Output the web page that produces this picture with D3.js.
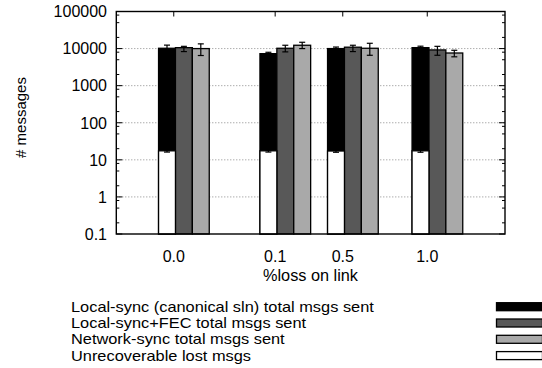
<!DOCTYPE html>
<html lang="en">
<head>
<meta charset="UTF-8">
<script src="https://cdn.jsdelivr.net/npm/d3@7"></script>
<title>messages vs loss</title>
<style>
  body { margin: 0; background: #fff; }
  text { font-family: "Liberation Sans", Arial, sans-serif; fill: #000; }
</style>
</head>
<body>
<script>
    // data
    const lossLabels = ["0.0", "0.1", "0.5", "1.0"];
    const seriesNames = [
        "Local-sync (canonical sln) total msgs sent",
        "Local-sync+FEC total msgs sent",
        "Network-sync total msgs sent",
        "Unrecoverable lost msgs"
    ];
    const localSync     = [10200, 7300, 10000, 10600];
    const localSyncLo   = [8400, 6700, 9000, 9600];
    const localSyncHi   = [12400, 7950, 11000, 11600];
    const localFec      = [10600, 10200, 10900, 9200];
    const localFecLo    = [8300, 8150, 8300, 6600];
    const localFecHi    = [11500, 12300, 12300, 11500];
    const netSync       = [10000, 12300, 10200, 7600];
    const netSyncLo     = [6500, 10000, 6600, 6000];
    const netSyncHi     = [13400, 14800, 13900, 9000];
    const lost          = [17.5, 17.5, 17.3, 17.5];
    const lostLo        = [16.2, 16.2, 16.0, 16.0];
    const lostHi        = [18.6, 18.6, 18.5, 18.8];
    const yTicks = [0.1, 1, 10, 100, 1000, 10000, 100000];

    // layout (in bar-width units along the x axis)
    const groupStart = [2.5, 8.5, 12.5, 17.5];
    const fills = ["#000000", "#585858", "#a9a9a9", "#ffffff"];

    const W = 542, H = 368;
    const L = 116.3, R = 505, T = 11.5, B = 234;

    const svg = d3.select("body").append("svg").attr("width", W).attr("height", H);

    const x = d3.scaleLinear().domain([0, 23]).range([L, R]);
    const y = d3.scaleLog().domain([0.1, 100000]).range([B, T]);

    // grid
    svg.append("g").selectAll("line")
        .data(yTicks.filter(v => v > 0.1 && v < 100000))
        .join("line")
        .attr("x1", L).attr("x2", R)
        .attr("y1", d => y(d)).attr("y2", d => y(d))
        .attr("stroke", "#8a8a8a").attr("stroke-width", 1)
        .attr("stroke-dasharray", "1,2");

    // minor ticks (2, 5, 8 in each decade)
    let minor = [];
    for (let e = -1; e < 5; e++) {
        [2, 5, 8].forEach(m => minor.push(m * Math.pow(10, e)));
    }
    const tickG = svg.append("g").attr("stroke", "#000").attr("stroke-width", 1);
    minor.forEach(v => {
        tickG.append("line").attr("x1", L).attr("x2", L + 3).attr("y1", y(v)).attr("y2", y(v));
        tickG.append("line").attr("x1", R).attr("x2", R - 3).attr("y1", y(v)).attr("y2", y(v));
    });
    yTicks.forEach(v => {
        tickG.append("line").attr("x1", L).attr("x2", L + 6).attr("y1", y(v)).attr("y2", y(v));
        tickG.append("line").attr("x1", R).attr("x2", R - 6).attr("y1", y(v)).attr("y2", y(v));
    });
    // x ticks, top and bottom
    groupStart.forEach(s => {
        const tx = x(s + 0.9);
        tickG.append("line").attr("x1", tx).attr("x2", tx).attr("y1", T).attr("y2", T + 5);
        tickG.append("line").attr("x1", tx).attr("x2", tx).attr("y1", B).attr("y2", B - 5);
    });

    // bars
    const series = [
        {vals: localSync, lo: localSyncLo, hi: localSyncHi, slot: 0},
        {vals: localFec, lo: localFecLo, hi: localFecHi, slot: 1},
        {vals: netSync, lo: netSyncLo, hi: netSyncHi, slot: 2},
        {vals: lost, lo: lostLo, hi: lostHi, slot: 0}
    ];
    series.forEach((s, si) => {
        const g = svg.append("g");
        g.selectAll("rect")
            .data(s.vals)
            .join("rect")
            .attr("x", (d, i) => x(groupStart[i] + s.slot))
            .attr("width", x(1) - x(0))
            .attr("y", d => y(d))
            .attr("height", d => B - y(d))
            .attr("fill", fills[si])
            .attr("stroke", "#000")
            .attr("stroke-width", 1.3);
        // error bars
        s.vals.forEach((d, i) => {
            const cx = x(groupStart[i] + s.slot + 0.5);
            g.append("line").attr("x1", cx).attr("x2", cx)
                .attr("y1", y(s.lo[i])).attr("y2", y(s.hi[i]))
                .attr("stroke", "#000").attr("stroke-width", 1.2);
            [s.lo[i], s.hi[i]].forEach(v => {
                g.append("line").attr("x1", cx - 3).attr("x2", cx + 3)
                    .attr("y1", y(v)).attr("y2", y(v))
                    .attr("stroke", "#000").attr("stroke-width", 1.2);
            });
        });
    });

    // frame
    svg.append("rect")
        .attr("x", L).attr("y", T).attr("width", R - L).attr("height", B - T)
        .attr("fill", "none").attr("stroke", "#000").attr("stroke-width", 1.4);

    // y tick labels
    svg.append("g").selectAll("text")
        .data(yTicks)
        .join("text")
        .attr("x", 107)
        .attr("y", d => y(d))
        .attr("dy", "0.36em")
        .attr("text-anchor", "end")
        .attr("font-size", 16)
        .text(d => d < 1 ? "0.1" : d3.format("d")(d));

    // x tick labels
    svg.append("g").selectAll("text")
        .data(lossLabels)
        .join("text")
        .attr("x", (d, i) => x(groupStart[i] + 0.9))
        .attr("y", 262)
        .attr("text-anchor", "middle")
        .attr("font-size", 16)
        .text(d => d);

    svg.append("text")
        .attr("x", 310.5).attr("y", 280.5)
        .attr("text-anchor", "middle")
        .attr("font-size", 16.3)
        .text("%loss on link");

    svg.append("text")
        .attr("transform", "translate(26,117.5) rotate(-90)")
        .attr("text-anchor", "middle")
        .attr("font-size", 15)
        .text("# messages");

    // legend (rows are packed tight, so glyphs are stretched sideways)
    const leg = svg.append("g");
    seriesNames.forEach((name, i) => {
        const ly = 312.2 + i * 16.1;
        leg.append("text")
            .attr("transform", "translate(71," + ly + ") scale(1.17,1)")
            .attr("font-size", 14)
            .text(name);
        leg.append("rect")
            .attr("x", 496.5).attr("y", 302.7 + i * 16.3)
            .attr("width", 46).attr("height", 8)
            .attr("fill", fills[i])
            .attr("stroke", "#000").attr("stroke-width", 1.3);
    });
</script>
</body>
</html>
